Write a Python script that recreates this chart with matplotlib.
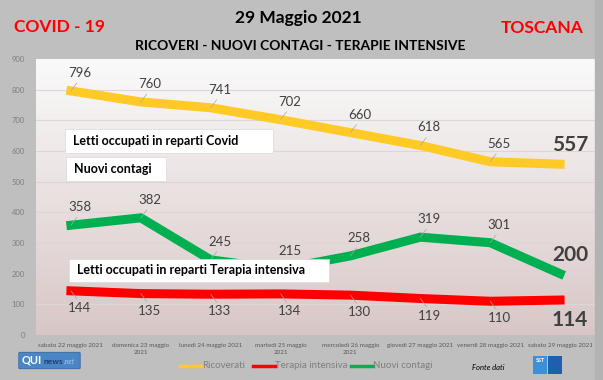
import matplotlib.pyplot as plt
import numpy as np
from matplotlib.patches import Rectangle, FancyBboxPatch

# dati
giorni = ["sabato 22 maggio 2021", "domenica 23 maggio\n2021", "lunedì 24 maggio 2021",
          "martedì 25 maggio\n2021", "mercoledì 26 maggio\n2021", "giovedì 27 maggio 2021",
          "venerdì 28 maggio 2021", "sabato 29 maggio 2021"]
ricoverati = [796, 760, 741, 702, 660, 618, 565, 557]
nuovi_contagi = [358, 382, 245, 215, 258, 319, 301, 200]
terapia_intensiva = [144, 135, 133, 134, 130, 119, 110, 114]
y_ticks = [0, 100, 200, 300, 400, 500, 600, 700, 800, 900]

GIALLO = "#FFC926"
ROSSO = "#FF0000"
VERDE = "#00B050"
FONT = "Lato"

W, H = 603, 380
fig = plt.figure(figsize=(W / 100, H / 100), dpi=100)
fig.patch.set_facecolor("#bfbfbf")


def fx(px):
    return px / W


def fy(py):
    return 1 - py / H


# striscia grigia a destra
fig.patches.append(Rectangle((fx(595), 0), fx(8), 1, transform=fig.transFigure,
                             color="#b3b3b3", zorder=0))

ax = fig.add_axes([fx(36), fy(335), fx(595 - 36), (335 - 59) / H])
ax.set_facecolor("none")

# sfondo sfumato dell'area del grafico
top = np.array([0.98, 0.98, 0.98])
bot = np.array([0.85, 0.78, 0.78])
t = np.linspace(0, 1, 256)[:, None]
grad = (top * (1 - t) + bot * t)[:, None, :]
ax.imshow(grad, extent=[0, 1, 0, 1], transform=ax.transAxes, aspect="auto", zorder=0)

x = np.arange(len(giorni))
ax.set_xlim(-0.5, len(giorni) - 0.5)
ax.set_ylim(0, 900)
for v in y_ticks[1:-1]:
    ax.axhline(v, color="#dcd6d6", lw=0.8, zorder=1)

ax.plot(x, ricoverati, color=GIALLO, lw=6.5, solid_joinstyle="miter", zorder=3)
ax.plot(x, terapia_intensiva, color=ROSSO, lw=6.5, solid_joinstyle="miter", zorder=3)
ax.plot(x, nuovi_contagi, color=VERDE, lw=6.5, solid_joinstyle="miter", zorder=3)

for s in ax.spines.values():
    s.set_visible(False)
ax.set_yticks(y_ticks)
ax.set_yticklabels([str(v) for v in y_ticks], color="#7f7f7f", fontsize=5.5, family=FONT)
ax.set_xticks(x)
ax.set_xticklabels(giorni, color="#595959", fontsize=4.5, family=FONT, linespacing=1.5,
                   va="top")
ax.tick_params(length=0, pad=8, axis="y")
ax.tick_params(length=0, pad=6, axis="x")


# etichette dei valori
def etichette(valori, sopra):
    for i, v in enumerate(valori):
        last = i == len(valori) - 1
        dy = 18 if sopra else -17
        if last:
            dy = 19 if sopra else -20
        ax.annotate(str(v), (i, v), xytext=(10 if last else 9, dy), textcoords="offset pixels",
                    ha="center", va="center", color="#404040", family=FONT,
                    fontsize=15 if last else 9.5, fontweight="bold" if last else "normal",
                    zorder=5)
        if not last:
            sgn = 1 if sopra else -1
            ax.annotate("", (i, v), xytext=(6, 8 * sgn), textcoords="offset pixels",
                        arrowprops=dict(arrowstyle="-", color="#a6a6a6", lw=0.5,
                                        shrinkA=0, shrinkB=0), zorder=4)


etichette(ricoverati, True)
etichette(nuovi_contagi, True)
etichette(terapia_intensiva, False)

# riquadri di testo
riquadri = [("Letti occupati in reparti Covid", 65, 129, 273, 153),
            ("Nuovi contagi", 66, 157, 166, 181),
            ("Letti occupati in reparti Terapia intensiva", 69, 259, 329, 282)]
for testo, x0, y0, x1, y1 in riquadri:
    fig.patches.append(Rectangle((fx(x0), fy(y1)), fx(x1 - x0), (y1 - y0) / H,
                                 transform=fig.transFigure, facecolor="white",
                                 edgecolor="#d9d9d9", lw=0.5, zorder=6))
    fig.text(fx(x0 + 8), fy((y0 + y1) / 2), testo, ha="left", va="center",
             fontsize=9, fontweight="bold", family=FONT, color="black", zorder=7)

# titoli
fig.text(fx(60), fy(27), "COVID - 19", color="red", fontsize=12.5, fontweight="bold",
         family=FONT, ha="center", va="center")
fig.text(fx(542), fy(28), "TOSCANA", color="red", fontsize=12.5, fontweight="bold",
         family=FONT, ha="center", va="center")
fig.text(fx(298), fy(18), "29 Maggio 2021", color="black", fontsize=12.5, fontweight="bold",
         family=FONT, ha="center", va="center")
fig.text(fx(300), fy(46), "RICOVERI - NUOVI CONTAGI - TERAPIE INTENSIVE", color="black",
         fontsize=10, fontweight="bold", family=FONT, ha="center", va="center")

# legenda
leg = [(GIALLO, "Ricoverati", 180), (ROSSO, "Terapia intensiva", 253),
       (VERDE, "Nuovi contagi", 351)]
for col, lab, x0 in leg:
    fig.lines.append(plt.Line2D([fx(x0), fx(x0 + 22)], [fy(366), fy(366)],
                                transform=fig.transFigure, color=col, lw=2.5))
    fig.text(fx(x0 + 22), fy(366), lab, color="#7f7f7f", fontsize=7, family=FONT,
             ha="left", va="center")

fig.text(fx(488), fy(367), "Fonte dati", color="black", fontsize=5.5, style="italic",
         family=FONT, ha="center", va="center")

# logo QUInews
fig.patches.append(FancyBboxPatch((fx(20), fy(368)), fx(59), 15 / H,
                                  boxstyle="round,pad=0.002", transform=fig.transFigure,
                                  facecolor="#4a86c5", edgecolor="#2f5f99", lw=0.5))
fig.text(fx(22), fy(360), "QUI", color="white", fontsize=8, fontweight="bold",
         family=FONT, ha="left", va="center")
fig.text(fx(43), fy(361), "news", color="#1e3f6e", fontsize=6, fontweight="bold",
         family=FONT, ha="left", va="center")
fig.text(fx(64), fy(361), ".net", color="#a8c8ec", fontsize=5, style="italic",
         family=FONT, ha="left", va="center")

# logo SST
fig.patches.append(Rectangle((fx(533), fy(374)), fx(14), 18 / H, transform=fig.transFigure,
                             facecolor="#3d8fd8", edgecolor="none"))
fig.patches.append(Rectangle((fx(548), fy(374)), fx(14), 18 / H, transform=fig.transFigure,
                             facecolor="#1f5fae", edgecolor="none"))
fig.text(fx(540), fy(361), "SST", color="white", fontsize=4, fontweight="bold",
         family=FONT, ha="center", va="center")

fig.savefig("out.png", dpi=100, facecolor=fig.get_facecolor())
